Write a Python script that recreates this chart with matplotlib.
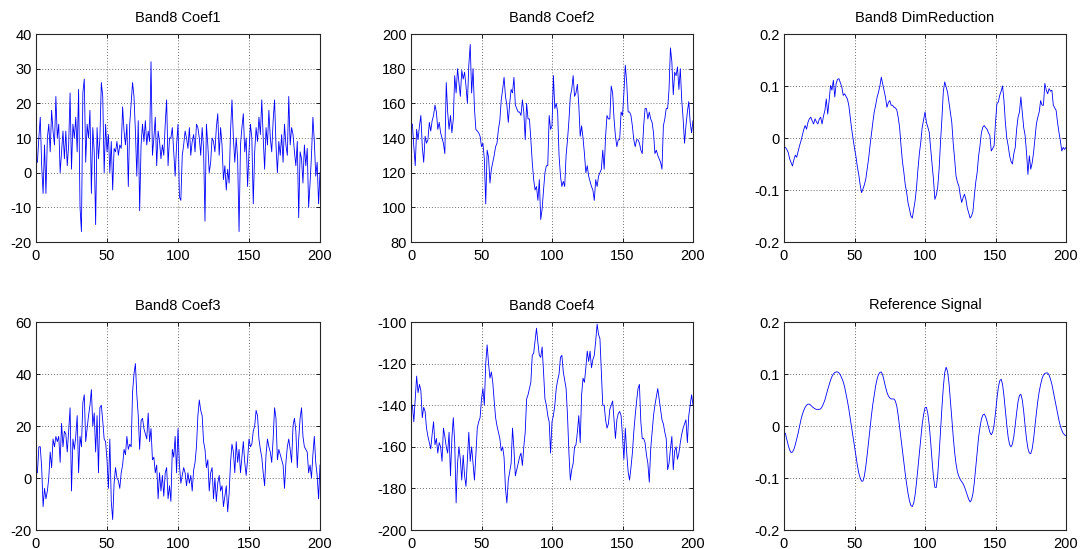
import numpy as np
import matplotlib
matplotlib.use("Agg")
import matplotlib.pyplot as plt

plt.rcParams['font.family'] = ['Liberation Sans', 'DejaVu Sans']
plt.rcParams['axes.unicode_minus'] = False

titles = ['Band8 Coef1', 'Band8 Coef2', 'Band8 DimReduction',
          'Band8 Coef3', 'Band8 Coef4', 'Reference Signal']

coef1 = [3, 10, 16, 2, -6, 8, -6, 10, 14, 6,
         18, 12, 8, 22, 10, 14, 0, 6, 12, 4,
         12, 2, 8, 23, 1, 14, 10, 16, 6, 24,
         -10, -17, 23, 27, 3, 14, 10, 18, -6, 13,
         6, -15, 13, 4, 10, 26, 22, 0, 14, 6,
         11, 0, 9, -5, 7, 6, 9, 5, 8, 7,
         19, 12, 8, 14, -4, 14, 20, 26, 22, 12,
         -1, 15, -11, 8, 14, 9, 15, 8, 12, 9,
         32, 5, 10, 16, 2, 12, 9, 4, 8, 5,
         14, 21, 2, 10, 10, 13, 6, -1, 8, 14,
         -7, -8, 5, 8, 12, 10, 7, 13, 5, 9,
         11, 6, 14, 13, 10, 5, 13, 7, -14, 14,
         8, 0, 3, 10, 9, 6, 13, 17, 5, 13,
         8, -2, 2, -5, 1, -3, 12, 21, 10, 3,
         10, 4, -17, 8, 13, 17, 6, 10, -4, 6,
         14, 10, -9, 6, 13, 9, 16, 11, 21, 10,
         1, 13, 8, 18, 10, 6, 15, 21, 8, 0,
         9, 5, 11, 3, 14, 8, 5, 22, 8, 13,
         11, 6, 2, 9, -13, 6, 4, -3, 8, 2,
         7, -10, -3, 5, 16, 9, -1, 3, -9, 0]

coef2 = [148, 135, 124, 145, 139, 147, 153, 135, 126, 141,
         137, 139, 149, 144, 150, 153, 159, 155, 145, 149,
         143, 140, 137, 131, 172, 155, 145, 153, 143, 151,
         176, 166, 180, 172, 164, 179, 174, 178, 170, 160,
         182, 194, 166, 180, 157, 145, 144, 143, 141, 135,
         137, 128, 102, 133, 129, 114, 122, 126, 130, 135,
         137, 145, 150, 162, 168, 175, 164, 159, 149, 160,
         168, 166, 175, 159, 157, 155, 155, 153, 162, 155,
         139, 160, 151, 151, 139, 126, 116, 110, 112, 104,
         116, 93, 99, 110, 120, 124, 124, 153, 145, 147,
         176, 157, 160, 155, 130, 118, 112, 115, 112, 130,
         139, 150, 164, 168, 176, 164, 166, 171, 159, 141,
         147, 140, 131, 120, 124, 118, 115, 112, 110, 104,
         116, 112, 118, 120, 122, 133, 122, 141, 153, 151,
         151, 170, 166, 151, 141, 135, 139, 139, 155, 153,
         166, 182, 172, 155, 155, 153, 147, 139, 135, 139,
         139, 137, 133, 131, 147, 157, 157, 151, 155, 151,
         149, 143, 131, 133, 130, 128, 126, 122, 147, 151,
         157, 157, 168, 192, 184, 165, 178, 176, 181, 168,
         180, 162, 151, 137, 147, 155, 161, 149, 143, 150]

dim_reduction = [-0.018, -0.022, -0.028, -0.040, -0.047, -0.054, -0.042, -0.033, -0.037, -0.026,
                 -0.015, -0.006, 0.005, 0.016, 0.024, 0.017, 0.030, 0.037, 0.040, 0.033,
                 0.027, 0.037, 0.031, 0.027, 0.036, 0.040, 0.027, 0.042, 0.053, 0.075,
                 0.046, 0.072, 0.101, 0.092, 0.111, 0.079, 0.105, 0.113, 0.114, 0.106,
                 0.098, 0.082, 0.085, 0.080, 0.075, 0.062, 0.040, 0.017, -0.002, -0.020,
                 -0.035, -0.055, -0.070, -0.090, -0.105, -0.098, -0.090, -0.079, -0.060, -0.040,
                 -0.015, 0.008, 0.030, 0.050, 0.063, 0.078, 0.088, 0.100, 0.117, 0.104,
                 0.090, 0.078, 0.059, 0.068, 0.072, 0.063, 0.063, 0.059, 0.058, 0.054,
                 0.040, 0.020, -0.015, -0.045, -0.066, -0.090, -0.105, -0.125, -0.137, -0.150,
                 -0.154, -0.137, -0.120, -0.095, -0.060, -0.030, -0.008, 0.020, 0.035, 0.050,
                 0.030, 0.021, 0.011, -0.020, -0.050, -0.079, -0.118, -0.110, -0.095, -0.060,
                 -0.008, 0.037, 0.090, 0.108, 0.098, 0.088, 0.069, 0.050, 0.030, -0.010,
                 -0.040, -0.073, -0.085, -0.092, -0.110, -0.124, -0.115, -0.108, -0.118, -0.135,
                 -0.144, -0.154, -0.150, -0.141, -0.111, -0.085, -0.066, -0.035, -0.015, 0.010,
                 0.021, 0.024, 0.020, 0.017, 0.010, 0.005, -0.025, -0.020, -0.015, 0.030,
                 0.066, 0.069, 0.082, 0.090, 0.100, 0.072, 0.030, 0.000, -0.015, -0.034,
                 -0.045, -0.050, -0.030, -0.018, 0.017, 0.040, 0.050, 0.079, 0.050, 0.020,
                 0.005, -0.028, -0.070, -0.034, -0.060, -0.048, -0.028, 0.000, 0.027, 0.040,
                 0.050, 0.072, 0.063, 0.063, 0.105, 0.092, 0.085, 0.095, 0.090, 0.092,
                 0.063, 0.058, 0.053, 0.030, 0.011, -0.005, -0.025, -0.018, -0.022, -0.018]

coef3 = [2, 12, 12, 4, -11, -4, -8, -5, 0, 10,
         4, 15, 12, 16, 14, 16, 6, 21, 12, 18,
         17, 10, 18, 27, -5, 15, 11, 16, 24, 2,
         16, 12, 29, 32, 14, 19, 24, 28, 34, 20,
         25, 10, 24, 2, 27, 28, 22, 15, 14, 7,
         -4, 15, -9, -16, -2, 4, 0, -1, -4, 2,
         5, 11, 9, 16, 11, 13, 12, 33, 40, 44,
         32, 24, 11, 22, 23, 19, 17, 15, 25, 14,
         19, 7, 8, 2, 5, -8, 2, -5, 1, -7,
         2, 4, -8, -3, -9, 11, 8, 16, 2, 19,
         5, -2, 1, 4, 2, -3, 2, -2, 1, -5,
         3, 6, 12, 24, 30, 26, 24, 14, 11, 4,
         7, -5, 2, 4, -8, 0, -9, -2, 1, -5,
         -3, -11, -7, -3, -13, -6, 6, 13, 10, 2,
         14, 6, 11, 2, 8, 14, 6, 1, 7, 15,
         12, 13, 18, 20, 26, 24, 15, 11, 8, 2,
         -3, 9, 15, 12, 10, 6, 15, 27, 23, 7,
         11, 9, 7, 5, -4, 6, 12, 15, 11, 6,
         20, 23, 18, 4, 15, 23, 27, 16, 12, 11,
         10, 2, 5, 0, 9, 16, 6, 1, -8, 5]

coef4 = [-140, -148, -137, -126, -134, -130, -133, -146, -141, -143,
         -151, -155, -158, -161, -154, -148, -159, -156, -163, -158,
         -160, -167, -151, -155, -160, -163, -153, -174, -156, -146,
         -158, -187, -168, -160, -166, -176, -164, -174, -179, -166,
         -153, -167, -160, -168, -176, -164, -151, -148, -146, -137,
         -132, -140, -120, -111, -120, -127, -124, -129, -138, -146,
         -150, -153, -156, -162, -160, -165, -180, -187, -176, -172,
         -168, -151, -161, -174, -171, -168, -165, -163, -169, -160,
         -153, -137, -135, -132, -129, -116, -115, -109, -103, -110,
         -116, -117, -112, -124, -137, -140, -145, -148, -163, -148,
         -145, -140, -132, -128, -125, -117, -116, -124, -128, -132,
         -145, -163, -176, -171, -168, -160, -159, -153, -145, -158,
         -135, -127, -129, -122, -114, -119, -114, -122, -118, -116,
         -109, -101, -106, -108, -124, -140, -140, -147, -151, -149,
         -142, -140, -138, -147, -156, -147, -144, -143, -145, -155,
         -166, -151, -163, -172, -176, -170, -163, -153, -145, -138,
         -132, -130, -148, -156, -156, -158, -164, -168, -177, -161,
         -153, -145, -140, -136, -132, -137, -142, -147, -149, -153,
         -156, -171, -168, -161, -155, -171, -162, -160, -166, -163,
         -158, -154, -151, -149, -147, -158, -145, -140, -135, -140]

reference = [-0.014, -0.026, -0.037, -0.046, -0.051, -0.050, -0.045, -0.036, -0.025, -0.014,
             -0.001, 0.012, 0.022, 0.030, 0.036, 0.040, 0.042, 0.042, 0.040, 0.037,
             0.035, 0.033, 0.032, 0.032, 0.032, 0.033, 0.037, 0.043, 0.050, 0.060,
             0.070, 0.079, 0.088, 0.095, 0.100, 0.103, 0.104, 0.104, 0.102, 0.098,
             0.092, 0.085, 0.075, 0.062, 0.048, 0.032, 0.014, -0.005, -0.023, -0.040,
             -0.057, -0.075, -0.090, -0.100, -0.106, -0.106, -0.096, -0.078, -0.055, -0.030,
             -0.005, 0.020, 0.042, 0.060, 0.077, 0.090, 0.099, 0.103, 0.104, 0.098,
             0.087, 0.075, 0.065, 0.058, 0.054, 0.052, 0.052, 0.052, 0.048, 0.038,
             0.020, -0.002, -0.025, -0.047, -0.070, -0.092, -0.112, -0.130, -0.144, -0.153,
             -0.155, -0.148, -0.132, -0.108, -0.080, -0.050, -0.022, 0.003, 0.022, 0.035,
             0.036, 0.024, 0.002, -0.030, -0.066, -0.098, -0.118, -0.118, -0.095, -0.055,
             -0.010, 0.035, 0.075, 0.103, 0.113, 0.105, 0.083, 0.050, 0.015, -0.020,
             -0.050, -0.073, -0.088, -0.097, -0.103, -0.107, -0.111, -0.117, -0.125, -0.133,
             -0.141, -0.146, -0.142, -0.130, -0.108, -0.080, -0.050, -0.022, -0.002, 0.013,
             0.021, 0.023, 0.018, 0.009, -0.002, -0.012, -0.017, -0.012, 0.002, 0.025,
             0.052, 0.074, 0.087, 0.090, 0.080, 0.058, 0.030, 0.002, -0.022, -0.036,
             -0.040, -0.035, -0.020, 0.002, 0.026, 0.047, 0.059, 0.061, 0.050, 0.028,
             0.000, -0.025, -0.043, -0.052, -0.053, -0.044, -0.025, 0.000, 0.025, 0.048,
             0.066, 0.080, 0.091, 0.098, 0.101, 0.102, 0.102, 0.098, 0.090, 0.080,
             0.066, 0.052, 0.038, 0.024, 0.011, 0.000, -0.008, -0.014, -0.017, -0.019]

x_ticks = [0, 50, 100, 150, 200]
y_ticks = [[-20, -10, 0, 10, 20, 30, 40],
           [80, 100, 120, 140, 160, 180, 200],
           [-0.2, -0.1, 0, 0.1, 0.2],
           [-20, 0, 20, 40, 60],
           [-200, -180, -160, -140, -120, -100],
           [-0.2, -0.1, 0, 0.1, 0.2]]
y_labels = [['-20', '-10', '0', '10', '20', '30', '40'],
            ['80', '100', '120', '140', '160', '180', '200'],
            ['-0.2', '-0.1', '0', '0.1', '0.2'],
            ['-20', '0', '20', '40', '60'],
            ['-200', '-180', '-160', '-140', '-120', '-100'],
            ['-0.2', '-0.1', '0', '0.1', '0.2']]

series = [coef1, coef2, dim_reduction, coef3, coef4, reference]

W, H = 1081, 549
fig = plt.figure(figsize=(W / 100, H / 100), dpi=100)
fig.patch.set_facecolor('white')

# 2x3 grid of axes, placed in pixels
lefts = [36, 411, 784]
widths = [284, 282, 282]
tops = [34, 322]
ax_h = 208

for k in range(6):
    r, c = divmod(k, 3)
    ax = fig.add_axes([lefts[c] / W, 1 - (tops[r] + ax_h) / H, widths[c] / W, ax_h / H])
    y = series[k]
    x = np.arange(1, len(y) + 1)
    ax.plot(x, y, color='#0000ff', linewidth=0.6)
    ax.set_xlim(0, 200)
    ax.set_ylim(y_ticks[k][0], y_ticks[k][-1])
    ax.set_xticks(x_ticks)
    ax.set_xticklabels([str(t) for t in x_ticks])
    ax.set_yticks(y_ticks[k])
    ax.set_yticklabels(y_labels[k])
    ax.grid(True, linestyle=(0, (1, 2.5)), color='#404040', linewidth=0.6)
    ax.tick_params(direction='in', length=3, width=0.6, labelsize=10.5,
                   top=True, right=True)
    ax.tick_params(axis='x', pad=5)
    ax.tick_params(axis='y', pad=3)
    for sp in ax.spines.values():
        sp.set_linewidth(0.8)
        sp.set_color('#262626')
    ax.set_title(titles[k], fontsize=10.5, pad=9)

fig.savefig('out.png', dpi=100, facecolor='white')
